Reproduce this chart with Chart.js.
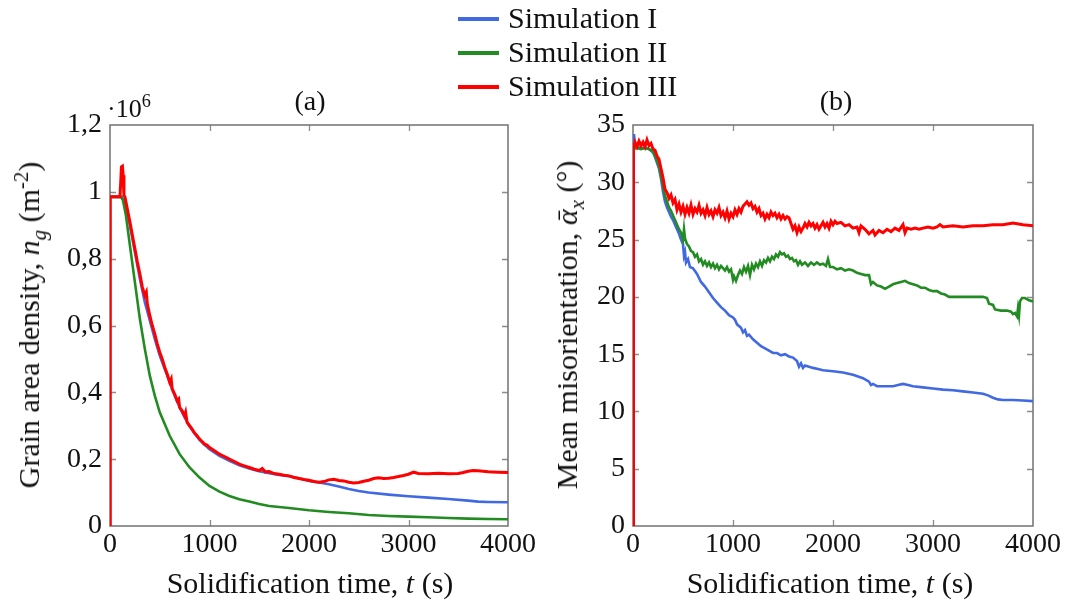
<!DOCTYPE html>
<html>
<head>
<meta charset="utf-8">
<script src="https://cdn.jsdelivr.net/npm/chart.js@4.4.1/dist/chart.umd.min.js"></script>
<style>
  html, body { margin:0; padding:0; background:#fff; }
  #wrap { position:relative; width:1067px; height:603px; background:#fff; overflow:hidden;
          font-family:"Liberation Serif","Times New Roman",serif; color:#111; }
  canvas { position:absolute; top:0; }
  .lbl { position:absolute; white-space:nowrap; line-height:1; }
  .rot { transform: translate(-50%,-50%) rotate(-90deg); }
  .hc { transform: translate(-50%,-50%); }
  .leg { position:absolute; left:458px; font-size:30px; line-height:1; white-space:nowrap; }
  .leg span.sw { display:inline-block; width:41px; height:4px; vertical-align:middle; margin-right:9px; position:relative; top:-2px; }
  sub, sup { font-size:70%; line-height:0; }
</style>
</head>
<body>
<div id="wrap">
  <canvas id="ca" width="560" height="603" style="left:0"></canvas>
  <canvas id="cb" width="527" height="603" style="left:540px"></canvas>

  <div class="leg" style="top:3px"><span class="sw" style="background:#4169E1"></span>Simulation I</div>
  <div class="leg" style="top:37px"><span class="sw" style="background:#228B22"></span>Simulation II</div>
  <div class="leg" style="top:71px"><span class="sw" style="background:#FF0000"></span>Simulation III</div>

  <div class="lbl hc" style="left:310px;top:101px;font-size:28px">(a)</div>
  <div class="lbl hc" style="left:836px;top:101px;font-size:28px">(b)</div>
  <div class="lbl" style="left:107px;top:96px;font-size:26px">·10<sup>6</sup></div>

  <div class="lbl rot" style="left:29px;top:325px;font-size:30px">Grain area density, <i>n<sub>g</sub></i> (m<sup>-2</sup>)</div>
  <div class="lbl rot" style="left:567px;top:325px;font-size:30px">Mean misorientation, <i>ᾱ<sub>x</sub></i> (°)</div>
  <div class="lbl hc" style="left:310px;top:583px;font-size:30px">Solidification time, <i>t</i> (s)</div>
  <div class="lbl hc" style="left:830px;top:583px;font-size:30px">Solidification time, <i>t</i> (s)</div>
</div>
<script>
// ---------------- DATA ----------------
const seriesNames = ['Simulation I', 'Simulation II', 'Simulation III'];
const seriesColors = ['#4169E1', '#228B22', '#FF0000'];

const xTickLabels = ['0', '1000', '2000', '3000', '4000'];
const yTickLabelsA = ['0', '0,2', '0,4', '0,6', '0,8', '1', '1,2'];
const yTickLabelsB = ['0', '5', '10', '15', '20', '25', '30', '35'];

// Panel (a): grain area density (x10^6 m^-2)
const tA1 = [0,120,140,170,200,250,300,350,400,450,500,550,600,650,700,750,800,850,900,950,1000,1100,1200,1300,1400,1500,1600,1700,1800,1900,2000,2100,2200,2300,2400,2500,2600,2800,3000,3200,3400,3600,3700,3800,4000];
const nA1 = [0.985,0.985,0.97,0.94,0.9,0.82,0.74,0.67,0.615,0.56,0.51,0.47,0.43,0.39,0.355,0.325,0.298,0.277,0.258,0.243,0.23,0.21,0.195,0.182,0.172,0.164,0.158,0.153,0.149,0.143,0.135,0.13,0.125,0.118,0.111,0.105,0.1,0.094,0.089,0.085,0.081,0.076,0.073,0.072,0.071];

const tA2 = [0,110,130,160,200,250,300,350,400,450,500,600,700,800,900,1000,1100,1200,1300,1400,1500,1600,1800,2000,2200,2400,2600,2800,3000,3200,3400,3600,3800,4000];
const nA2 = [0.985,0.985,0.975,0.93,0.84,0.73,0.62,0.53,0.45,0.39,0.34,0.27,0.215,0.175,0.145,0.12,0.103,0.09,0.08,0.073,0.066,0.06,0.054,0.047,0.042,0.038,0.033,0.03,0.028,0.026,0.024,0.022,0.021,0.02];

const tA3 = [0,3,100,108,115,125,132,140,150,170,200,225,250,275,300,325,350,365,375,400,425,450,475,500,525,550,575,600,615,625,650,675,690,700,725,750,760,775,800,825,850,875,900,925,950,975,1000,1050,1100,1150,1200,1250,1300,1350,1400,1450,1500,1530,1560,1600,1650,1700,1750,1800,1850,1900,1950,2000,2050,2100,2150,2200,2250,2300,2350,2400,2450,2500,2550,2600,2650,2700,2750,2800,2850,2900,2950,3000,3050,3100,3200,3300,3400,3500,3550,3600,3650,3700,3800,3900,4000];
const nA3 = [0,0.985,0.985,1.03,1.075,1.077,1.05,0.99,0.985,0.955,0.91,0.87,0.83,0.79,0.755,0.715,0.69,0.7,0.665,0.63,0.6,0.575,0.545,0.52,0.5,0.475,0.455,0.43,0.44,0.41,0.395,0.375,0.38,0.355,0.345,0.33,0.34,0.31,0.3,0.29,0.278,0.27,0.26,0.253,0.245,0.242,0.235,0.225,0.215,0.208,0.2,0.193,0.185,0.18,0.175,0.17,0.166,0.172,0.162,0.163,0.157,0.155,0.152,0.15,0.145,0.142,0.139,0.137,0.133,0.131,0.133,0.138,0.14,0.136,0.135,0.131,0.129,0.13,0.134,0.137,0.142,0.144,0.142,0.143,0.145,0.148,0.151,0.155,0.161,0.157,0.156,0.158,0.156,0.157,0.16,0.164,0.166,0.165,0.162,0.161,0.16];

// Panel (b): mean misorientation (deg)
const tB1 = [0,10,20,40,80,120,160,200,220,240,260,280,300,320,340,360,380,400,420,440,460,480,500,510,520,530,550,570,600,640,680,720,760,800,840,880,920,960,1000,1020,1040,1080,1100,1120,1140,1160,1200,1240,1280,1320,1360,1400,1440,1480,1520,1560,1600,1640,1660,1680,1700,1720,1760,1800,1850,1900,1950,2000,2100,2200,2300,2360,2380,2400,2440,2500,2600,2650,2700,2750,2800,2900,3000,3100,3200,3300,3400,3500,3550,3600,3650,3700,3800,3900,4000];
const aB1 = [33.0,34.2,33.2,33.1,33.0,33.0,32.9,32.6,32.2,31.7,31.2,30.3,29.2,28.3,27.8,27.4,27.0,26.7,26.3,25.9,25.5,25.0,24.6,23.6,23.9,23.0,23.3,22.6,22.5,22.0,21.3,20.9,20.4,19.9,19.5,19.1,18.8,18.4,18.2,18.0,17.6,17.3,16.9,17.1,16.6,16.7,16.3,16.0,15.7,15.5,15.3,15.1,15.1,14.9,15.0,14.8,14.7,14.4,13.9,14.2,13.8,14.0,13.9,13.8,13.7,13.6,13.55,13.5,13.4,13.2,12.9,12.6,12.3,12.4,12.2,12.2,12.2,12.3,12.4,12.3,12.2,12.1,12.0,11.9,11.85,11.75,11.65,11.55,11.4,11.2,11.05,11.0,11.0,10.95,10.9];

const tB2 = [0,40,80,120,160,200,220,240,260,280,300,320,340,360,380,400,420,440,460,480,500,510,520,540,560,580,600,620,640,660,680,700,720,740,760,780,800,820,840,860,880,900,920,940,960,980,1000,1010,1030,1050,1070,1090,1110,1130,1150,1170,1190,1210,1230,1250,1270,1290,1310,1330,1350,1370,1390,1410,1430,1450,1470,1490,1510,1530,1550,1570,1590,1610,1630,1650,1670,1690,1720,1750,1780,1810,1840,1870,1900,1930,1950,1970,2000,2040,2080,2120,2160,2200,2240,2280,2320,2360,2380,2400,2440,2480,2520,2560,2600,2640,2680,2720,2760,2800,2840,2880,2920,2960,3000,3040,3080,3120,3160,3200,3300,3400,3500,3540,3560,3600,3620,3680,3740,3780,3800,3820,3840,3850,3860,3870,3890,3920,3960,4000];
const aB2 = [32.9,33.0,32.9,33.0,32.9,32.7,32.3,31.9,31.4,30.6,29.7,28.8,28.3,27.8,27.5,27.1,26.7,26.3,25.9,25.6,25.0,25.9,25.1,24.6,24.4,24.0,23.9,23.5,23.7,23.1,23.3,22.8,23.1,22.7,23.0,22.6,22.9,22.5,22.8,22.4,22.7,22.5,22.3,22.6,22.2,22.4,21.5,21.8,21.4,21.9,22.3,22.0,22.6,22.2,22.7,21.9,22.8,22.4,22.9,22.6,23.1,22.7,23.2,23.0,23.4,23.1,23.5,23.3,23.7,23.5,23.9,23.7,23.8,23.5,23.6,23.3,23.4,23.1,23.2,22.8,23.1,22.8,23.0,22.7,23.0,22.8,23.0,22.8,22.9,22.7,23.3,22.6,22.6,22.4,22.5,22.3,22.4,22.3,22.1,22.0,21.9,21.9,21.1,21.3,21.0,20.9,20.7,20.9,21.1,21.2,21.3,21.4,21.2,21.1,21.0,20.8,20.8,20.6,20.5,20.5,20.3,20.2,20.0,20.0,20.0,20.0,20.0,19.9,19.4,19.3,18.9,18.8,18.8,18.7,18.5,18.6,18.3,19.0,18.4,19.6,19.9,19.9,19.7,19.6];

const tB3 = [0,5,20,40,60,80,100,120,140,160,180,200,220,240,260,280,300,320,340,360,380,400,420,440,460,480,500,520,540,560,580,600,620,640,660,680,700,720,740,760,780,800,820,840,860,880,900,920,940,960,980,1000,1020,1040,1060,1080,1100,1120,1140,1160,1180,1200,1220,1240,1260,1280,1300,1320,1340,1360,1380,1400,1420,1440,1460,1480,1500,1520,1540,1560,1580,1600,1620,1640,1660,1680,1700,1720,1740,1760,1780,1800,1820,1840,1860,1880,1900,1920,1940,1960,1980,2000,2020,2040,2080,2120,2160,2200,2240,2260,2280,2320,2360,2400,2420,2460,2500,2540,2580,2620,2660,2700,2720,2740,2780,2820,2860,2900,2950,3000,3040,3070,3100,3200,3300,3400,3500,3600,3700,3800,3900,4000];
const aB3 = [0,33.0,33.5,33.1,33.6,33.2,33.5,33.1,33.7,33.2,33.4,32.9,32.8,32.3,32.0,31.2,30.4,29.4,29.1,28.6,28.9,28.2,28.5,27.6,28.1,27.4,27.9,27.2,27.8,27.3,28.0,27.2,27.7,27.4,28.0,27.3,27.6,27.1,27.8,27.2,27.5,27.0,27.6,27.3,27.8,27.1,27.4,26.9,27.5,26.8,27.3,27.0,27.6,27.2,27.7,27.4,27.9,28.1,28.3,28.0,28.2,27.7,27.9,27.4,27.7,27.1,27.3,26.8,27.2,26.9,27.4,27.1,27.3,26.9,27.2,26.8,27.1,26.8,27.0,26.9,26.4,25.9,26.2,25.6,26.1,25.7,26.0,26.4,26.1,26.5,26.2,26.4,26.0,26.3,25.9,26.2,26.5,26.1,26.4,26.0,26.6,26.3,26.6,26.4,26.5,26.2,26.3,26.0,26.1,25.6,26.2,25.9,25.5,25.8,25.4,25.8,25.6,25.9,25.7,26.0,25.8,26.3,25.6,26.0,25.9,26.0,25.9,26.0,26.1,26.0,26.1,26.3,26.1,26.2,26.1,26.2,26.2,26.3,26.3,26.45,26.3,26.2];

// ---------------- CHART HELPERS ----------------
const FONT = '"Liberation Serif", "Times New Roman", serif';
const pts = (ts, vs) => ts.map((t, i) => ({ x: t, y: vs[i] }));

const frameTicks = {
  id: 'frameTicks',
  beforeDatasetsDraw(chart) {
    const { ctx, chartArea: a, scales } = chart;
    ctx.save();
    ctx.strokeStyle = '#8c8c8c';
    ctx.lineWidth = 1.3;
    const L = 6;
    scales.x.ticks.forEach(t => {
      const p = Math.round(scales.x.getPixelForValue(t.value)) + 0.5;
      if (p <= a.left + 1 || p >= a.right - 1) return;
      ctx.beginPath();
      ctx.moveTo(p, a.bottom); ctx.lineTo(p, a.bottom - L);
      ctx.moveTo(p, a.top); ctx.lineTo(p, a.top + L);
      ctx.stroke();
    });
    scales.y.ticks.forEach(t => {
      const p = Math.round(scales.y.getPixelForValue(t.value)) + 0.5;
      if (p <= a.top + 1 || p >= a.bottom - 1) return;
      ctx.beginPath();
      ctx.moveTo(a.left, p); ctx.lineTo(a.left + L, p);
      ctx.moveTo(a.right, p); ctx.lineTo(a.right - L, p);
      ctx.stroke();
    });
    ctx.strokeStyle = '#7a7a7a';
    ctx.lineWidth = 1.6;
    ctx.strokeRect(a.left, a.top, a.right - a.left, a.bottom - a.top);
    ctx.restore();
  }
};

function makeChart(id, datasetsData, yMax, yStep, yLabels, areaLeft, areaRight, canvasW) {
  const datasets = datasetsData.map((d, i) => ({
    label: seriesNames[i],
    data: d,
    borderColor: seriesColors[i],
    backgroundColor: seriesColors[i],
    borderWidth: i === 2 ? 3 : 2.6,
    pointRadius: 0,
    tension: 0,
    order: 2 - i
  }));
  return new Chart(document.getElementById(id), {
    type: 'line',
    data: { datasets },
    options: {
      responsive: false,
      animation: false,
      parsing: true,
      layout: { padding: { top: 125, right: canvasW - areaRight, left: 0, bottom: 0 } },
      plugins: { legend: { display: false }, tooltip: { enabled: false }, title: { display: false } },
      scales: {
        x: {
          type: 'linear', min: 0, max: 4000,
          ticks: { stepSize: 1000, color: '#111', font: { family: FONT, size: 28 }, padding: 2,
                   maxRotation: 0, callback: (v, i) => xTickLabels[i] },
          grid: { display: false, drawTicks: false },
          border: { display: false },
          afterFit: s => { s.height = 77; s.paddingLeft = 0; s.paddingRight = 0; }
        },
        y: {
          type: 'linear', min: 0, max: yMax,
          ticks: { stepSize: yStep, color: '#111', font: { family: FONT, size: 28 }, padding: 8,
                   callback: (v, i) => yLabels[i] },
          grid: { display: false, drawTicks: false },
          border: { display: false },
          afterFit: s => { s.width = areaLeft; s.paddingTop = 0; s.paddingBottom = 0; }
        }
      }
    },
    plugins: [frameTicks]
  });
}

makeChart('ca', [pts(tA1, nA1), pts(tA2, nA2), pts(tA3, nA3)], 1.2, 0.2, yTickLabelsA, 110, 508, 560);
makeChart('cb', [pts(tB1, aB1), pts(tB2, aB2), pts(tB3, aB3)], 35, 5, yTickLabelsB, 93, 493, 527);
</script>
</body>
</html>
